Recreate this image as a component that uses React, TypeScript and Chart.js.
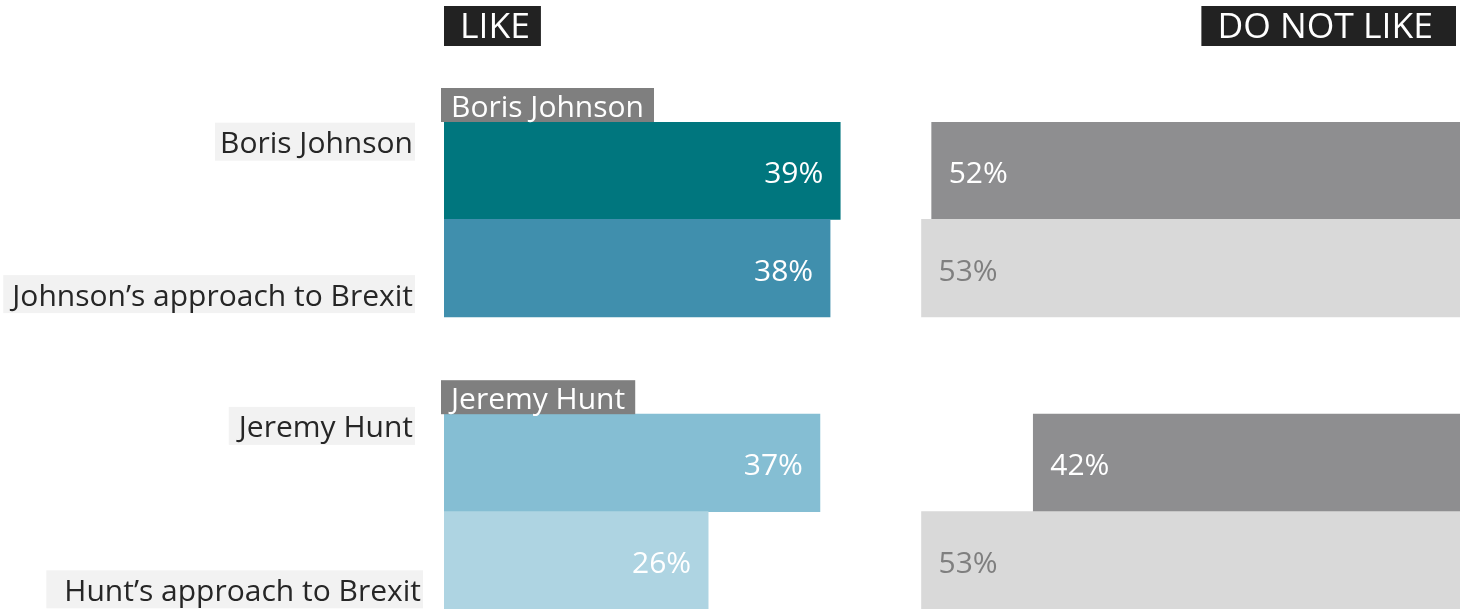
import React, { useEffect, useRef } from "react";
import { Chart, registerables } from "chart.js";

Chart.register(...registerables);

const categories = ["Boris Johnson", "Johnson’s approach to Brexit", "", "Jeremy Hunt", "Hunt’s approach to Brexit"];
const likeValues = [39, 38, null, 37, 26];
const dislikeValues = [52, 53, null, 42, 53];
const likeColors = ["#00767e", "#408fad", "#ffffff", "#85bed3", "#aed4e2"];
const dislikeColors = ["#8e8e90", "#d9d9d9", "#ffffff", "#8e8e90", "#d9d9d9"];
const dislikeTextColors = ["#ffffff", "#7f7f7f", "#ffffff", "#ffffff", "#7f7f7f"];
const headers = ["LIKE", "DO NOT LIKE"];
const groupTags = [
  { index: 0, text: "Boris Johnson" },
  { index: 3, text: "Jeremy Hunt" },
];

const FONT = "'Open Sans', 'Noto Sans', 'DejaVu Sans', sans-serif";

const annotationPlugin = {
  id: "annotations",
  afterDatasetsDraw(chart: any) {
    const ctx = chart.ctx;
    const area = chart.chartArea;
    const yScale = chart.scales.y;
    ctx.save();

    // value labels
    ctx.font = `30px ${FONT}`;
    ctx.textBaseline = "middle";
    const likeMeta = chart.getDatasetMeta(0);
    likeMeta.data.forEach((el: any, i: number) => {
      const v = likeValues[i];
      if (v == null) return;
      ctx.fillStyle = "#ffffff";
      ctx.textAlign = "right";
      ctx.fillText(`${v}%`, el.x - 17, el.y + 4);
    });
    const disMeta = chart.getDatasetMeta(1);
    disMeta.data.forEach((el: any, i: number) => {
      const v = dislikeValues[i];
      if (v == null) return;
      ctx.fillStyle = dislikeTextColors[i];
      ctx.textAlign = "left";
      ctx.fillText(`${v}%`, Math.min(el.x, el.base) + 17, el.y + 4);
    });

    // headers
    ctx.font = `35.5px ${FONT}`;
    const hTop = 6;
    const hH = 40;
    const w0 = ctx.measureText(headers[0]).width;
    ctx.fillStyle = "#222222";
    ctx.fillRect(area.left, hTop, w0 + 27, hH);
    ctx.fillStyle = "#ffffff";
    ctx.textAlign = "left";
    ctx.fillText(headers[0], area.left + 16, hTop + hH / 2 + 2);
    const w1 = ctx.measureText(headers[1]).width;
    const r1 = area.right - 4;
    ctx.fillStyle = "#222222";
    ctx.fillRect(r1 - w1 - 39, hTop, w1 + 39, hH);
    ctx.fillStyle = "#ffffff";
    ctx.fillText(headers[1], r1 - w1 - 23, hTop + hH / 2 + 2);

    // group tags above bars
    ctx.font = `30px ${FONT}`;
    const step = (yScale.bottom - yScale.top) / categories.length;
    groupTags.forEach((t) => {
      const top = yScale.getPixelForValue(t.index) - step / 2;
      const w = ctx.measureText(t.text).width;
      const h = 34;
      ctx.fillStyle = "#7f7f7f";
      ctx.fillRect(area.left - 3, top - h, w + 20, h);
      ctx.fillStyle = "#ffffff";
      ctx.textAlign = "left";
      ctx.fillText(t.text, area.left + 7, top - h / 2 + 3);
    });

    // category labels on left
    const offsets = [-29, 26, 0, -37, 29];
    const leftPads = [6, 10, 0, 11, 19];
    const rightEdges = [area.left - 30, area.left - 30, 0, area.left - 30, area.left - 22];
    categories.forEach((c, i) => {
      if (!c) return;
      const cy = yScale.getPixelForValue(i) + offsets[i];
      const w = ctx.measureText(c).width;
      const right = rightEdges[i];
      const h = 38;
      ctx.fillStyle = "#f2f2f2";
      ctx.fillRect(right - w - leftPads[i], cy - h / 2, w + leftPads[i] + 1, h);
      ctx.fillStyle = "#262626";
      ctx.textAlign = "right";
      ctx.fillText(c, right - 1, cy + 3);
    });

    ctx.restore();
  },
};

export default function App() {
  const ref = useRef<HTMLCanvasElement>(null);
  useEffect(() => {
    if (!ref.current) return;
    const chart = new Chart(ref.current, {
      type: "bar",
      data: {
        labels: categories,
        datasets: [
          {
            label: "Like",
            data: likeValues as any,
            backgroundColor: likeColors,
            barPercentage: 1,
            categoryPercentage: 1,
            grouped: false,
            borderWidth: 0,
          } as any,
          {
            label: "Do not like",
            data: dislikeValues.map((v) => (v == null ? null : [100 - v, 100])) as any,
            backgroundColor: dislikeColors,
            barPercentage: 1,
            categoryPercentage: 1,
            grouped: false,
            borderWidth: 0,
          } as any,
        ],
      },
      options: {
        indexAxis: "y",
        animation: false,
        responsive: true,
        maintainAspectRatio: false,
        layout: { padding: { left: 444, right: 13, top: 122, bottom: 0 } },
        scales: {
          x: { display: false, min: 0, max: 100 },
          y: { display: false },
        },
        plugins: {
          legend: { display: false },
          tooltip: { enabled: false },
        },
      },
      plugins: [annotationPlugin],
    });
    return () => chart.destroy();
  }, []);
  return (
    <div style={{ position: "fixed", left: 0, top: 0, width: 1473, height: 609, background: "#ffffff" }}>
      <canvas ref={ref} />
    </div>
  );
}
